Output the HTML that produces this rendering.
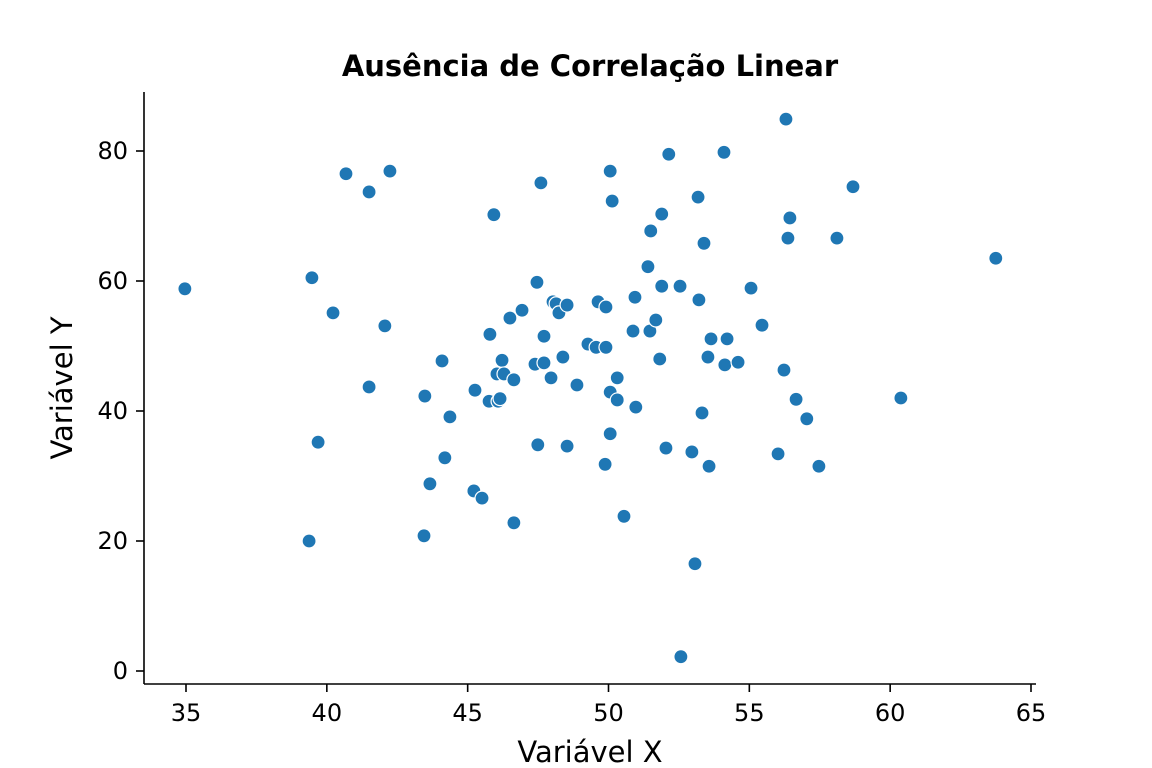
<!DOCTYPE html>
<html><head><meta charset="utf-8"><style>
html,body{margin:0;padding:0;background:#fff;}
svg{display:block;font-family:"DejaVu Sans","Liberation Sans",sans-serif;}
</style></head><body>
<svg id="chart" width="1152" height="768">
<text x="590" y="76" text-anchor="middle" font-size="29" font-weight="bold">Ausência de Correlação Linear</text>
<line x1="144" y1="92" x2="144" y2="684" stroke="#000" stroke-width="1.6"/>
<line x1="144" y1="684" x2="1036" y2="684" stroke="#000" stroke-width="1.6"/>
<text x="590" y="762" text-anchor="middle" font-size="29">Variável X</text>
<text transform="translate(72,388) rotate(-90)" text-anchor="middle" font-size="29">Variável Y</text>
<g id="ticks"></g>
<g id="points"></g>
</svg>
<script>
const xTicks=[35,40,45,50,55,60,65];
const yTicks=[0,20,40,60,80];
const xVals=[34.96,39.47,39.69,39.37,40.68,40.22,41.50,41.50,42.24,42.06,43.48,43.45,43.66,44.09,44.37,44.19,45.26,45.22,45.51,45.93,45.79,45.76,46.04,46.08,46.15,46.22,46.29,46.50,46.64,46.64,46.93,47.46,47.60,47.71,47.39,47.71,47.49,47.96,48.03,48.14,48.24,48.53,48.38,48.53,48.88,49.27,49.63,49.56,49.91,49.91,49.88,50.06,50.13,50.06,50.31,50.31,50.06,50.55,50.94,50.87,50.97,51.40,51.50,51.47,51.68,51.89,51.89,51.82,52.14,52.04,52.54,52.57,52.96,53.07,53.18,53.21,53.39,53.32,53.53,53.64,53.57,54.10,54.21,54.13,54.60,55.06,55.45,56.02,56.30,56.23,56.44,56.37,56.66,57.04,57.47,58.11,58.68,60.38,63.75];
const yVals=[58.8,60.5,35.2,20.0,76.5,55.1,73.7,43.7,76.9,53.1,42.3,20.8,28.8,47.7,39.1,32.8,43.2,27.7,26.6,70.2,51.8,41.5,45.7,41.5,41.9,47.8,45.7,54.3,44.8,22.8,55.5,59.8,75.1,51.5,47.2,47.4,34.8,45.1,56.8,56.5,55.1,56.3,48.3,34.6,44.0,50.3,56.8,49.8,56.0,49.8,31.8,76.9,72.3,42.9,45.1,41.7,36.5,23.8,57.5,52.3,40.6,62.2,67.7,52.3,54.0,70.3,59.2,48.0,79.5,34.3,59.2,2.2,33.7,16.5,72.9,57.1,65.8,39.7,48.3,51.1,31.5,79.8,51.1,47.1,47.5,58.9,53.2,33.4,84.9,46.3,69.7,66.6,41.8,38.8,31.5,66.6,74.5,42.0,63.5];
const NS="http://www.w3.org/2000/svg";
function sx(v){return 186+(v-35)*(1031-186)/30;}
function sy(v){return 671-v*6.5;}
const tk=document.getElementById('ticks');
function mk(tag,attrs,parent){const e=document.createElementNS(NS,tag);for(const k in attrs)e.setAttribute(k,attrs[k]);parent.appendChild(e);return e;}
xTicks.forEach(t=>{
  const l=mk('line',{x1:sx(t),x2:sx(t),y1:684,y2:692,stroke:'#000','stroke-width':1.6},tk);
  
  
  const tx=mk('text',{x:sx(t),y:721,'text-anchor':'middle','font-size':24},tk);
  tx.textContent=t;
  
  
});
yTicks.forEach(t=>{
  const l=mk('line',{x1:136,x2:144,y1:sy(t),y2:sy(t),stroke:'#000','stroke-width':1.6},tk);
  
  
  const tx=mk('text',{x:128,y:sy(t)+8,'text-anchor':'end','font-size':24},tk);
  tx.textContent=t;
  
  
});
const pg=document.getElementById('points');
xVals.forEach((x,i)=>{
  const c=mk('circle',{cx:sx(x),cy:sy(yVals[i]),r:7,fill:'#1f77b4',stroke:'#fff','stroke-width':1.2},pg);
  
  
});
</script>
</body></html>
